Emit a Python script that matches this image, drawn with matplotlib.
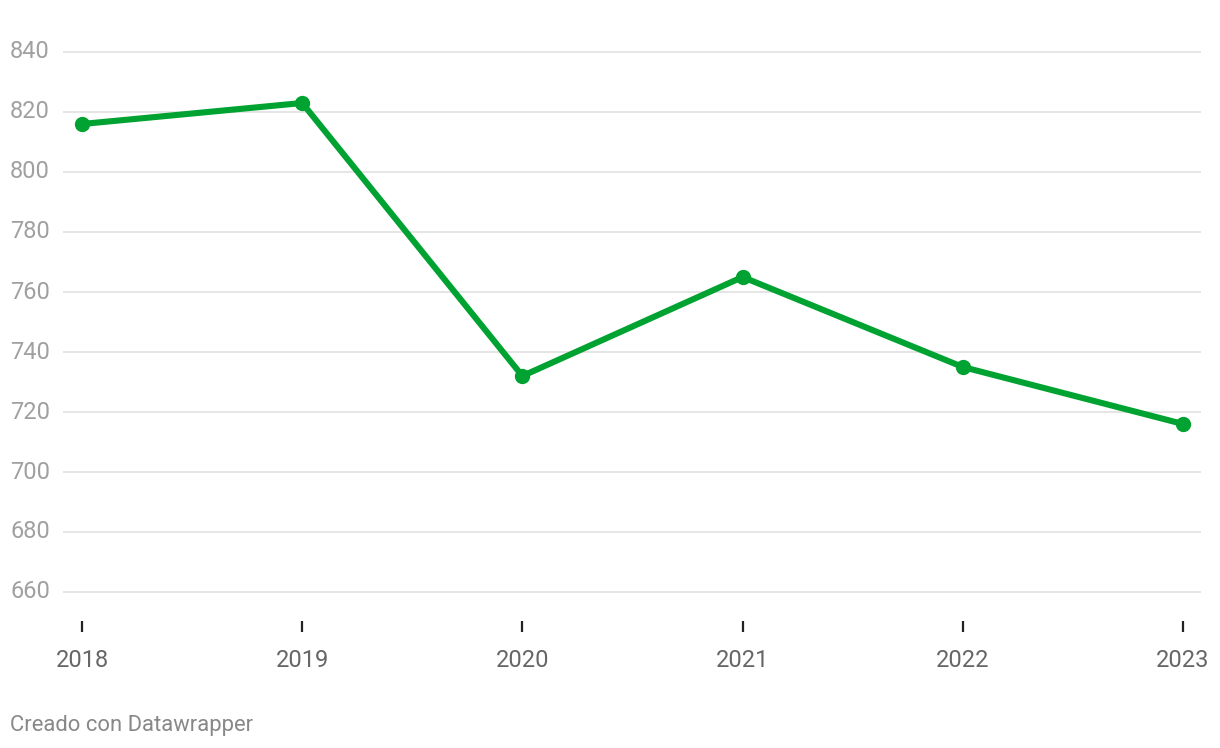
import matplotlib
matplotlib.use("Agg")
import matplotlib.pyplot as plt
from matplotlib.transforms import blended_transform_factory

plt.rcParams['font.family'] = ['Roboto', 'DejaVu Sans']

years = [2018, 2019, 2020, 2021, 2022, 2023]
values = [816, 823, 732, 765, 735, 716]
y_ticks = [660, 680, 700, 720, 740, 760, 780, 800, 820, 840]

W, H = 1220, 748
fig = plt.figure(figsize=(W / 100, H / 100), dpi=100)
# axes box in pixels: left 63, right 1201, top 40, bottom 621
ax = fig.add_axes([63 / W, 1 - 621 / H, (1201 - 63) / W, (621 - 40) / H])

ax.set_xlim(2018 - 19 / 220.2, 2023 + 18 / 220.2)
ax.set_ylim(660 - 29 / 3, 840 + 12 / 3)

for t in y_ticks:
    ax.axhline(t, color='#e0e0e0', lw=1.2, zorder=1)

ax.plot(years, values, color='#00a331', lw=4.4, marker='o', markersize=10,
        solid_capstyle='round', solid_joinstyle='round', zorder=3)

for s in ax.spines.values():
    s.set_visible(False)

ax.set_yticks([])
ax.set_xticks(years)
ax.set_xticklabels([str(y) for y in years], fontsize=17, color='#666666')
ax.tick_params(axis='x', length=8, width=1.6, color='#222222', pad=12, direction='out')

trans = blended_transform_factory(fig.transFigure, ax.transData)
for t in y_ticks:
    ax.text(10 / W, t, str(t), transform=trans, ha='left', va='center',
            fontsize=17, color='#a0a0a0')

fig.text(10 / W, 1 - 725 / H, "Creado con Datawrapper", ha='left', va='center',
         fontsize=15.8, color='#888888')

fig.savefig("out.png", dpi=100, facecolor='white')
